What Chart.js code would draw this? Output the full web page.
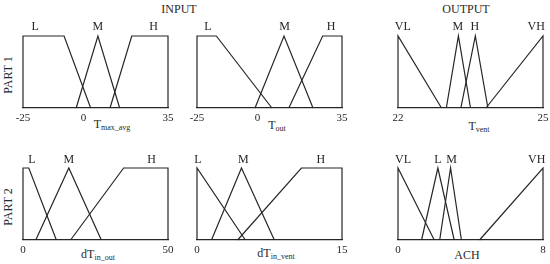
<!DOCTYPE html>
<html><head><meta charset="utf-8">
<script src="https://cdn.jsdelivr.net/npm/chart.js@4.4.1/dist/chart.umd.min.js"></script>
<style>
html,body{margin:0;padding:0;background:#fff}
body{width:550px;height:264px;position:relative;overflow:hidden;font-family:"Liberation Serif","Times New Roman",serif;color:#2a2a2a}
canvas.c{position:absolute}
.t{position:absolute;font-size:12px;white-space:nowrap;transform:translate(-50%,-50%);line-height:1}
.t .s{font-size:8px;position:relative;top:2px}
.r{transform:translate(-50%,-50%) rotate(-90deg)}
</style></head>
<body>
<div class="t" style="left:179px;top:9px">INPUT</div>
<div class="t" style="left:466px;top:9px">OUTPUT</div>
<div class="t r" style="left:8px;top:75px">PART 1</div>
<div class="t r" style="left:8px;top:207px">PART 2</div>
<div class="t" style="left:112px;top:124px">T<span class="s">max_avg</span></div>
<div class="t" style="left:277px;top:125px">T<span class="s">out</span></div>
<div class="t" style="left:479px;top:126px">T<span class="s">vent</span></div>
<div class="t" style="left:98px;top:254px">dT<span class="s">in_out</span></div>
<div class="t" style="left:276px;top:253px">dT<span class="s">in_vent</span></div>
<div class="t" style="left:467px;top:255px">ACH</div>
<script>
// ---- data (membership function break points) ----
const tmaxRange = [-25, 35];
const tmaxTicks = [-25, 0, 35];
const tmaxSets = ['L', 'M', 'H'];
const tmaxL = [-25, -25, -8, 3];
const tmaxM = [-3, 6, 15];
const tmaxH = [11, 20, 35, 35];
const tmaxLabelAt = [-20, 6, 29];

const toutRange = [-25, 35];
const toutTicks = [-25, 0, 35];
const toutSets = ['L', 'M', 'H'];
const toutL = [-25, -25, -17, 6];
const toutM = [-1, 11, 23];
const toutH = [13, 27, 35, 35];
const toutLabelAt = [-20.5, 11.2, 30.5];

const tventRange = [22, 25];
const tventTicks = [22, 25];
const tventSets = ['VL', 'M', 'H', 'VH'];
const tventVL = [22, 22, 22.9];
const tventM = [23, 23.25, 23.5];
const tventH = [23.3, 23.6, 23.86];
const tventVH = [23.82, 25, 25];
const tventLabelAt = [22.1, 23.24, 23.59, 24.86];

const dtioRange = [0, 50];
const dtioTicks = [0, 50];
const dtioSets = ['L', 'M', 'H'];
const dtioL = [0, 0, 2, 11.5];
const dtioM = [4.4, 15.8, 27];
const dtioH = [16.4, 34.7, 50, 50];
const dtioLabelAt = [3.1, 15.8, 44.3];

const dtivRange = [0, 15];
const dtivTicks = [0, 15];
const dtivSets = ['L', 'M', 'H'];
const dtivL = [0, 0, 5];
const dtivM = [1.5, 4.6, 8];
const dtivH = [4.2, 10.8, 15, 15];
const dtivLabelAt = [0.1, 4.8, 12.8];

const achRange = [0, 8];
const achTicks = [0, 8];
const achSets = ['VL', 'L', 'M', 'VH'];
const achVL = [0, 0, 2];
const achL = [1.3, 2.2, 3.1];
const achM = [2.3, 2.9, 3.5];
const achVH = [4.5, 8, 8];
const achLabelAt = [0.28, 2.2, 2.95, 7.65];

// ---- helpers ----
function mf(p) {
  const ys = p.length === 4 ? [0, 1, 1, 0] : [0, 1, 0];
  return p.map((x, i) => ({ x: x, y: ys[i] }));
}
const INK = '#262626';
const setLabelPlugin = {
  id: 'setLabels',
  afterDatasetsDraw(chart, args, opts) {
    const ctx = chart.ctx, xs = chart.scales.x;
    ctx.save();
    ctx.fillStyle = INK;
    ctx.font = '12px "Liberation Serif", serif';
    ctx.textAlign = 'center';
    ctx.textBaseline = 'middle';
    opts.names.forEach((n, i) => {
      ctx.fillText(n, xs.getPixelForValue(opts.at[i]), chart.chartArea.top - opts.lift);
    });
    ctx.restore();
  }
};

function panel(left, top, range, ticks, shapes, names, at, lift) {
  const padL = 20, padR = 20, padT = 20, axisH = 18;
  const w = 145, h = 72;
  const cv = document.createElement('canvas');
  cv.className = 'c';
  cv.style.left = (left - padL) + 'px';
  cv.style.top = (top - padT) + 'px';
  cv.style.width = (w + padL + padR) + 'px';
  cv.style.height = (h + padT + axisH) + 'px';
  cv.width = w + padL + padR;
  cv.height = h + padT + axisH;
  document.body.appendChild(cv);
  new Chart(cv, {
    type: 'scatter',
    data: {
      datasets: shapes.map(s => ({
        data: mf(s), showLine: true, pointRadius: 0, borderColor: INK,
        borderWidth: 1.2, fill: false, tension: 0, clip: false
      }))
    },
    options: {
      responsive: false, animation: false, devicePixelRatio: 1,
      layout: { padding: { left: padL, right: padR, top: padT, bottom: 0 } },
      plugins: { legend: { display: false }, tooltip: { enabled: false },
        setLabels: { names: names, at: at, lift: lift } },
      scales: {
        x: {
          type: 'linear', min: range[0], max: range[1],
          afterBuildTicks: s => { s.ticks = ticks.map(v => ({ value: v })); },
          afterFit: s => { s.height = axisH; },
          grid: { display: false, drawTicks: false },
          border: { display: true, color: INK, width: 1.2 },
          ticks: { color: INK, padding: 4, maxRotation: 0, autoSkip: false,
            font: { family: '"Liberation Serif", serif', size: 11 } }
        },
        y: { display: false, min: 0, max: 1 }
      }
    },
    plugins: [setLabelPlugin]
  });
}

panel(23, 36, tmaxRange, tmaxTicks, [tmaxL, tmaxM, tmaxH], tmaxSets, tmaxLabelAt, 9);
panel(197, 36, toutRange, toutTicks, [toutL, toutM, toutH], toutSets, toutLabelAt, 9);
panel(398, 36, tventRange, tventTicks, [tventVL, tventM, tventH, tventVH], tventSets, tventLabelAt, 9);
panel(23, 168, dtioRange, dtioTicks, [dtioL, dtioM, dtioH], dtioSets, dtioLabelAt, 8);
panel(197, 168, dtivRange, dtivTicks, [dtivL, dtivM, dtivH], dtivSets, dtivLabelAt, 8);
panel(398, 168, achRange, achTicks, [achVL, achL, achM, achVH], achSets, achLabelAt, 8);
</script>
</body></html>
